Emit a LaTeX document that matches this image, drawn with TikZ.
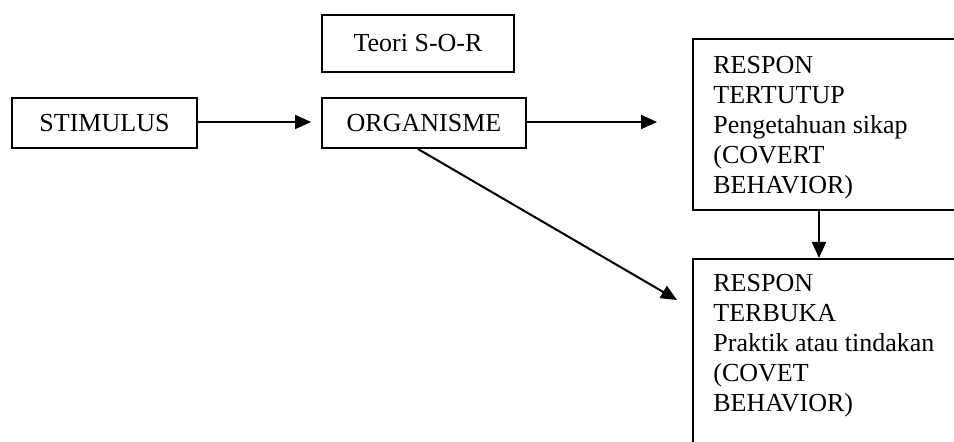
\documentclass[tikz,border=0pt]{standalone}
\usepackage{fontspec}
\setmainfont{Liberation Serif}
\usetikzlibrary{arrows.meta}
\begin{document}
\begin{tikzpicture}[x=0.5pt,y=-0.5pt,
  box/.style={draw=black,line width=1pt,inner sep=0pt,font=\fontsize{13}{15}\selectfont},
  rbox/.style={draw=black,line width=1pt,inner sep=0pt,anchor=north west,minimum width=140pt},
  rtext/.style={inner sep=0pt,anchor=north west,align=left,font=\fontsize{13}{15}\selectfont},
  conn/.style={line width=1pt,-{Triangle[length=8pt,width=7pt]}}]
\useasboundingbox (0,0) rectangle (954,442);
\clip (0,0) rectangle (954,442);
\fill[white] (0,0) rectangle (954,442);
\node[box,minimum width=96pt,minimum height=28.5pt] (teori) at (418,43.5) {Teori S-O-R};
\node[box,minimum width=92.5pt,minimum height=25pt] (stim) at (104.5,123) {STIMULUS};
\node[box,minimum width=102pt,minimum height=25pt] (org) at (424,123) {ORGANISME};
\node[rbox,minimum height=85.5pt] (tert) at (692,38) {};
\node[rtext] (terttxt) at (713,56) {RESPON\\TERTUTUP\\Pengetahuan sikap\\(COVERT\\BEHAVIOR)};
\node[rbox,minimum height=102pt] (terb) at (692,258) {};
\node[rtext] (terbtxt) at (713,274) {RESPON\\TERBUKA\\Praktik atau tindakan\\(COVET\\BEHAVIOR)};
\coordinate (diagend) at (677,300);
\draw[conn,shorten >=5pt] ([yshift=0.5pt]stim.east) -- ([yshift=0.5pt]org.west);
\draw[conn,shorten >=17.5pt] ([yshift=0.5pt]org.east) -- ([yshift=0.5pt]org.east -| tert.west);
\draw[conn] ([xshift=-3pt]org.south) -- (diagend);
\draw[conn] ([xshift=63.5pt]tert.south west) -- ([xshift=63.5pt]terb.north west);
\end{tikzpicture}
\end{document}
